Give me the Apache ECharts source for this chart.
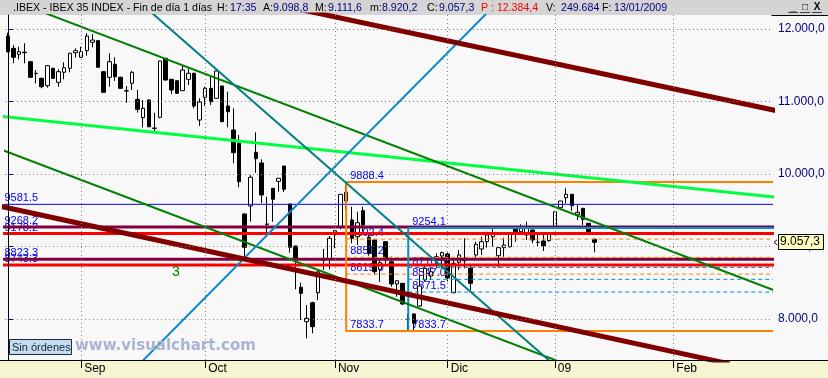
<!DOCTYPE html>
<html><head><meta charset="utf-8">
<script src="https://cdn.jsdelivr.net/npm/echarts@6/dist/echarts.min.js"></script>
<style>html,body{margin:0;padding:0;background:#f8f8f8;}#c{width:828px;height:378px;}</style>
</head><body><div id="c"></div>
<script>
// ---------- data ----------
const opens  = [11903,11734,11651,11680,11549,11385,11320,11218,11458,11265,11403,11458,11673,11610,11701,11817,11839,11411,11334,11513,
                11334,11148,11251,11030,10777,11021,10634,10782,11596,11306,11287,11149,11306,11389,10745,11058,11182,11044,11214,10938,
                10607,10423,9448,9559,10299,10152,9310,9803,9899,10110,9586,9007,8437,7963,8225,8363,8810,8832,9182,9273,
                9628,9366,9135,9494,9127,9090,8686,9066,8790,8483,8492,7996,8069,8179,8538,8593,8804,8869,8897,8363,
                8782,8837,8699,8883,8966,9066,9135,8873,8984,8997,9273,9204,9159,9228,9058,9076,9080,9265,9535,9673,
                9720,9444,9527,9320,9098.8];
const closes = [11687,11610,11687,11673,11334,11389,11204,11494,11320,11411,11466,11665,11701,11687,11903,11848,11472,11127,11549,11342,
                11182,11145,11403,10892,10906,10652,10630,11559,11297,11159,11113,11434,11389,10938,10993,11182,10997,11421,10721,10859,
                10294,9894,8989,9955,10211,9710,9306,9651,9941,9789,8989,8814,8354,8010,7894,8652,8818,9113,9218,9720,
                9748,9113,9328,9297,8906,8652,8777,8814,8483,8528,8207,7998,7941,8455,8699,8652,8859,8915,8566,8768,
                8883,8804,8492,9030,9066,9159,9182,8984,9021,9168,9196,9251,9273,9090,9060,9011,9190,9480,9628,9720,
                9563,9472,9375,9196,9057.3];
const lows   = [11676,11527,11582,11527,11324,11251,11182,11190,11310,11204,11306,11403,11604,11604,11632,11748,11466,11120,11204,11283,
                11172,10983,11159,10846,10644,10644,10570,10768,11287,11103,11103,11145,11228,10906,10662,10938,10952,11044,10721,10644,
                10148,9817,8859,9342,10018,9596,9135,9342,9756,9752,8915,8410,7986,7734,7803,8262,8676,8686,8975,9237,
                9503,9044,9021,9204,8873,8607,8514,8768,8446,8308,8193,7839,7833.7,8170,8515,8538,8699,8699,8520,8354,
                8676,8699,8400,8814,8883,8984,8997,8708,8859,8984,9066,9196,9090,9044,8997,8938,9066,9251,9531,9596,
                9490,9366,9297,9168,8920.2];
const highs  = [11949,11779,11756,11803,11549,11434,11328,11503,11462,11444,11541,11673,11734,11756,11941,11931,11848,11421,11665,11610,
                11342,11214,11421,11159,11021,11030,10846,11559,11596,11314,11287,11490,11458,11397,11044,11204,11342,11444,11214,11135,
                10906,10538,9458,9985,10575,10203,9687,9803,9941,10110,9586,9007,8501,8193,8239,8652,8966,9145,9218,9720,
                9888.4,9549,9480,9549,9159,9090,8837,9066,8859,8528,8492,8069,8079,8630,8731,8721,8906,8929,8915,8841,
                8952,9113,8745,9066,9135,9204,9251,8984,9121,9182,9273,9306,9342,9228,9182,9182,9190,9480,9628,9803,
                9720,9572,9527,9320,9111.6];

const barCount = 136;                       // trading-day slots on the x axis (incl. future space)
const categories = Array.from({length: barCount}, (_, i) => String(i));
const monthTickIndex  = [13, 35, 58, 78, 97, 118];
const monthTickLabels = ['Sep', 'Oct', 'Nov', 'Dic', '09', 'Feb'];
const yTickValues = [8000, 9000, 10000, 11000, 12000];
const yMin = 7434.5, yMax = 12193.1;

// trend lines, [barIndex, price] anchor pairs
const maroonUpperLine = [[51.8, 12270], [138.7, 10833]];
const maroonLowerLine = [[-1.4, 9556], [128.0, 7381]];
const greenUpperLine  = [[5.7, 12247], [138.7, 8312]];
const greenLowerLine  = [[-1.4, 10343], [99.7, 7356]];
const limeLine        = [[-1.4, 10797], [138.7, 9659]];
const tealLine        = [[25.2, 12245], [97.9, 7297]];
const blueRiseLine    = [[21.7, 7250], [85.5, 12263]];

// horizontal support / resistance levels
const levelValues = [9581.5, 9268.2, 9178.2, 8823.3, 8743.3];

// fibonacci boxes: start bar, levels (top, fibs..., bottom)
const orangeBoxStart = 60;
const orangeBoxLevels = [9888.4, 9102.4, 8851.2, 8619.0, 7833.7];
const blueBoxStart = 71;
const blueBoxLevels = [9254.1, 8710.5, 8547.0, 8371.5, 7833.7];

const quoteInfo = {hora: '17:35', prev: 12384.4, volume: '249.684', fecha: '13/01/2009'};

// ---------- helpers ----------
function esNum(v) {
  const s = Number(v).toFixed(1);
  const parts = s.split('.');
  return parts[0].replace(/\B(?=(\d{3})+(?!\d))/g, '.') + ',' + parts[1];
}
const FONT = 'Liberation Sans, Arial, sans-serif';
const xEnd = barCount + 4;

function lineSeries(data, color, width, type, z) {
  return {type: 'line', xAxisIndex: 1, yAxisIndex: 0, data: data, symbol: 'none', silent: true,
          animation: false, clip: true, z: z || 4,
          lineStyle: {color: color, width: width, type: type || 'solid'}};
}
function labelSeries(points, z) {
  return {type: 'scatter', xAxisIndex: 1, yAxisIndex: 0, data: points, symbolSize: 1, silent: true,
          itemStyle: {color: 'rgba(0,0,0,0)'}, z: z || 2, animation: false, clip: false,
          labelLayout: {hideOverlap: false},
          label: {show: true, position: [0, 0], offset: [0, -1], align: 'left', verticalAlign: 'bottom',
                  fontFamily: FONT, fontSize: 11, color: '#0000ff', opacity: 1,
                  textBorderWidth: 0, textBorderColor: 'transparent',
                  formatter: p => p.value[1].toFixed(1)}};
}

const levelStyles = [['#0000ff', 1], ['#800040', 3], ['#ff0000', 3], ['#800040', 3], ['#ff0000', 3]];

const series = [];
// grid lines (dotted)
series.push({type: 'line', xAxisIndex: 1, yAxisIndex: 0, data: [], z: 1, silent: true, animation: false,
  markLine: {silent: true, symbol: ['none', 'none'], animation: false, label: {show: false},
    lineStyle: {color: '#808080', type: [1, 3], width: 1},
    data: yTickValues.map(v => ({yAxis: v})).concat(monthTickIndex.map(i => ({xAxis: i})))}});

// level labels (under candles)
series.push(labelSeries(levelValues.map(v => [-0.5, v])));
series.push(labelSeries(orangeBoxLevels.map(v => [orangeBoxStart + 0.8, v])));
series.push(labelSeries(blueBoxLevels.map(v => [blueBoxStart + 0.8, v])));

// candles
series.push({type: 'candlestick', xAxisIndex: 0, yAxisIndex: 0, barWidth: 4, z: 3, animation: false,
  data: opens.map((o, i) => [o, closes[i], lows[i], highs[i]]),
  itemStyle: {color: '#ffffff', color0: '#000000', borderColor: '#000000', borderColor0: '#000000',
              borderColorDoji: '#000000', borderWidth: 1}});

// horizontal levels
levelValues.forEach((v, k) => series.push(lineSeries([[-1, v], [xEnd, v]], levelStyles[k][0], levelStyles[k][1])));

// fibonacci boxes
function boxSeries(start, levels, color) {
  const top = levels[0], bot = levels[levels.length - 1];
  series.push(lineSeries([[xEnd, top], [start, top], [start, bot], [xEnd, bot]], color, 2));
  levels.slice(1, -1).forEach(v => series.push(lineSeries([[start, v], [xEnd, v]], color, 1, [4, 3])));
}
boxSeries(blueBoxStart, blueBoxLevels, '#0090d0');
boxSeries(orangeBoxStart, orangeBoxLevels, '#ff8000');

// trend lines
series.push(lineSeries(limeLine, '#00ff40', 3));
series.push(lineSeries(greenUpperLine, '#008000', 2));
series.push(lineSeries(greenLowerLine, '#008000', 2));
series.push(lineSeries(tealLine, '#008080', 2));
series.push(lineSeries(blueRiseLine, '#0a88cc', 2));
series.push(lineSeries(maroonUpperLine, '#800000', 5));
series.push(lineSeries(maroonLowerLine, '#800000', 5));

// ---------- static decorations ----------
const last = opens.length - 1;
const headerParts = [
  [13, '.IBEX - IBEX 35 INDEX - Fin de día 1 días', '#000000'],
  [217, 'H:', '#000000'], [230, quoteInfo.hora, '#000080'],
  [263, 'A:', '#000000'], [273, esNum(opens[last]), '#000080'],
  [315, 'M:', '#000000'], [328, esNum(highs[last]), '#000080'],
  [370, 'm:', '#000000'], [382, esNum(lows[last]), '#000080'],
  [427, 'C:', '#000000'], [439, esNum(closes[last]), '#000080'],
  [481, 'P : ' + esNum(quoteInfo.prev), '#ff0000'],
  [546, 'V:', '#000000'], [561, quoteInfo.volume, '#000080'],
  [602, 'F:', '#000000'], [614, quoteInfo.fecha, '#000080']
];
function baseGraphics() {
  const g = [
    {type: 'rect', shape: {x: 0, y: 0, width: 828, height: 15}, style: {fill: '#d4d4d4'}, z: 0, silent: true},
    {type: 'rect', shape: {x: 0, y: 360, width: 828, height: 18}, style: {fill: '#f5f5d2'}, z: 0, silent: true},
    {type: 'line', shape: {x1: 0, y1: 360.5, x2: 828, y2: 360.5}, style: {stroke: '#000000', lineWidth: 1}, z: 1, silent: true},
    {type: 'line', shape: {x1: 771.5, y1: 15.5, x2: 828, y2: 15.5}, style: {stroke: '#000000', lineWidth: 1}, z: 1, silent: true},
    {type: 'text', x: 75, y: 346, style: {text: 'www.visualchart.com', font: 'bold 15px "DejaVu Sans", sans-serif', fill: '#a9b3d3', verticalAlign: 'middle'}, z: 20, silent: true},
    {type: 'rect', shape: {x: 9.5, y: 339.5, width: 62, height: 15}, style: {fill: '#c5dbef', stroke: '#1e2a3a', lineWidth: 1}, z: 20, silent: true},
    {type: 'text', x: 12, y: 347.5, style: {text: 'Sin órdenes', font: '11px ' + FONT, fill: '#102a40', verticalAlign: 'middle'}, z: 21, silent: true},
    {type: 'text', x: 176, y: 272, style: {text: '3', font: '14px ' + FONT, fill: '#008000', align: 'center', verticalAlign: 'middle'}, z: 20, silent: true}
  ];
  headerParts.forEach(p => g.push({type: 'text', x: p[0], y: 8, silent: true, z: 2,
    style: {text: p[1], font: '10.6px ' + FONT, fill: p[2], verticalAlign: 'middle'}}));
  // window buttons
  [['_', 788], ['□', 800], ['X', 812]].forEach(b => {
    g.push({type: 'text', x: b[1] + 5, y: 7, silent: true, z: 2,
      style: {text: b[0], font: 'bold 10px ' + FONT, fill: '#000000', align: 'center', verticalAlign: 'middle'}});
    g.push({type: 'line', shape: {x1: b[1], y1: 12.5, x2: b[1] + 10, y2: 12.5}, style: {stroke: '#404040', lineWidth: 1}, z: 2, silent: true});
  });
  return g;
}

const chart = echarts.init(document.getElementById('c'), null, {renderer: 'canvas', width: 828, height: 378});
chart.setOption({
  animation: false,
  backgroundColor: '#f8f8f8',
  grid: {left: 5, right: 56, top: 15, bottom: 18, containLabel: false},
  xAxis: [
    {type: 'category', data: categories, boundaryGap: true, z: 10,
     axisLine: {show: true, lineStyle: {color: '#000000', width: 1}},
     axisTick: {show: true, alignWithLabel: true, length: 8, interval: i => monthTickIndex.includes(i), lineStyle: {color: '#000000'}},
     axisLabel: {show: true, interval: i => monthTickIndex.includes(i), align: 'left', margin: 3, padding: [0, 0, 0, 3],
                 color: '#000000', fontFamily: FONT, fontSize: 12,
                 formatter: (v, i) => monthTickLabels[monthTickIndex.indexOf(Number(v))] || ''},
     splitLine: {show: false}},
    {type: 'value', min: -0.5, max: barCount - 0.5, show: false}
  ],
  yAxis: [{type: 'value', position: 'right', min: yMin, max: yMax, z: 10,
    splitLine: {show: false},
    axisLine: {show: true, lineStyle: {color: '#000000', width: 1}},
    axisTick: {show: true, length: 5, customValues: yTickValues, lineStyle: {color: '#000080'}},
    axisLabel: {show: true, customValues: yTickValues, margin: 6,
                color: '#000080', fontFamily: FONT, fontSize: 12, formatter: v => esNum(v)}}],
  graphic: baseGraphics(),
  series: series
});

// last-price marker on the price axis
const lastClose = closes[last];
const py = chart.convertToPixel({yAxisIndex: 0}, lastClose);
const g2 = baseGraphics();
g2.push({type: 'rect', shape: {x: 778.5, y: Math.round(py) - 7.5, width: 45, height: 15}, style: {fill: '#ffffc0', stroke: '#000000', lineWidth: 1}, z: 30, silent: true});
g2.push({type: 'text', x: 780, y: Math.round(py), style: {text: esNum(lastClose), font: '12px ' + FONT, fill: '#000000', verticalAlign: 'middle'}, z: 31, silent: true});
g2.push({type: 'polyline', shape: {points: [[777, py - 2.5], [774, py], [777, py + 2.5]]}, style: {stroke: '#000000', fill: null, lineWidth: 1}, z: 31, silent: true});
chart.setOption({graphic: g2});
</script></body></html>
